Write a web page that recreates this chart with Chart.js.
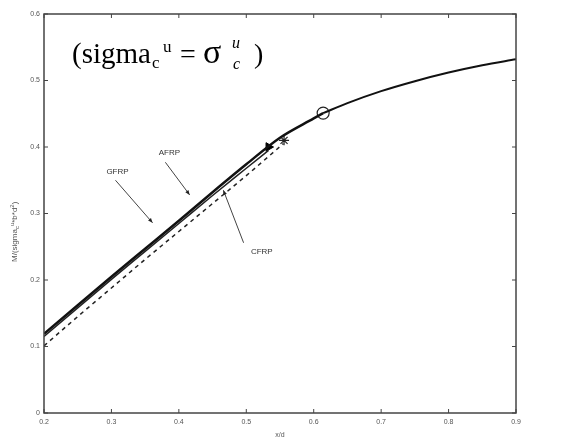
<!DOCTYPE html>
<html><head><meta charset="utf-8">
<script src="https://cdn.jsdelivr.net/npm/chart.js@4.4.0/dist/chart.umd.min.js"></script>
<style>html,body{margin:0;padding:0;background:#fff}#w{width:561px;height:441px}</style>
</head><body><div id="w"><canvas id="c" width="561" height="441"></canvas></div>
<script>
// ---- data ----
const xTicks = [0.2,0.3,0.4,0.5,0.6,0.7,0.8,0.9];
const yTicks = [0,0.1,0.2,0.3,0.4,0.5,0.6];
const gfrpX = [0.2,0.25,0.3,0.35,0.4,0.45,0.5,0.55,0.6,0.614];
const gfrpY = [0.119,0.162,0.205,0.247,0.289,0.332,0.374,0.414,0.443,0.451];
const afrpX = [0.2,0.25,0.3,0.35,0.4,0.45,0.5,0.533];
const afrpY = [0.115,0.158,0.201,0.243,0.285,0.327,0.368,0.395];
const cfrpX = [0.2,0.25,0.3,0.35,0.4,0.45,0.5,0.555];
const cfrpY = [0.101,0.145,0.188,0.231,0.273,0.315,0.357,0.405];
const commonX = [0.614,0.65,0.7,0.75,0.8,0.85,0.9];
const commonY = [0.451,0.466,0.484,0.499,0.512,0.523,0.532];
const gfrpEnd = [0.614,0.451];
const afrpEnd = [0.533,0.400];
const cfrpEnd = [0.556,0.410];
const labels = ["GFRP","AFRP","CFRP"];
const labelPos = [[0.309,0.362],[0.386,0.391],[0.523,0.242]];
const arrowFrom = [[0.306,0.350],[0.380,0.377],[0.496,0.256]];
const arrowTo = [[0.361,0.286],[0.416,0.328],[0.466,0.335]];

const pts = (xs,ys)=>xs.map((x,i)=>({x:x,y:ys[i]}));

function drawRich(ctx, parts, x, y){
  for(const p of parts){
    ctx.font = p.f;
    ctx.fillText(p.t, x, y + (p.dy||0));
    x += ctx.measureText(p.t).width + (p.dx||0);
  }
}

const deco = {
  id:'deco',
  afterDraw(ch){
    const ctx = ch.ctx, a = ch.chartArea, xs = ch.scales.x, ys = ch.scales.y;
    ctx.save();
    ctx.strokeStyle = '#444'; ctx.lineWidth = 1.5;
    ctx.strokeRect(a.left, a.top, a.right-a.left, a.bottom-a.top);
    ctx.lineWidth = 1;
    for(const t of xTicks){
      const px = xs.getPixelForValue(t);
      ctx.beginPath(); ctx.moveTo(px,a.bottom); ctx.lineTo(px,a.bottom-4);
      ctx.moveTo(px,a.top); ctx.lineTo(px,a.top+4); ctx.stroke();
    }
    for(const t of yTicks){
      const py = ys.getPixelForValue(t);
      ctx.beginPath(); ctx.moveTo(a.left,py); ctx.lineTo(a.left+4,py);
      ctx.moveTo(a.right,py); ctx.lineTo(a.right-4,py); ctx.stroke();
    }
    // annotation labels and arrows
    ctx.fillStyle = '#333'; ctx.strokeStyle = '#444'; ctx.lineWidth = 1;
    ctx.font = '8px "Liberation Sans"'; ctx.textAlign='center'; ctx.textBaseline='middle';
    labels.forEach((l,i)=>{
      ctx.fillText(l, xs.getPixelForValue(labelPos[i][0]), ys.getPixelForValue(labelPos[i][1]));
      const x1=xs.getPixelForValue(arrowFrom[i][0]), y1=ys.getPixelForValue(arrowFrom[i][1]);
      const x2=xs.getPixelForValue(arrowTo[i][0]), y2=ys.getPixelForValue(arrowTo[i][1]);
      ctx.beginPath(); ctx.moveTo(x1,y1); ctx.lineTo(x2,y2); ctx.stroke();
      const ang=Math.atan2(y2-y1,x2-x1), h=5;
      ctx.beginPath(); ctx.moveTo(x2,y2);
      ctx.lineTo(x2-h*Math.cos(ang-0.4), y2-h*Math.sin(ang-0.4));
      ctx.lineTo(x2-h*Math.cos(ang+0.4), y2-h*Math.sin(ang+0.4));
      ctx.closePath(); ctx.fillStyle='#222'; ctx.fill(); ctx.fillStyle='#333';
    });
    // axis titles
    ctx.textAlign='left'; ctx.textBaseline='alphabetic'; ctx.fillStyle='#555';
    ctx.font='7px "Liberation Sans"';
    const xt='x/d'; ctx.fillText(xt, (a.left+a.right)/2 - ctx.measureText(xt).width/2, 437);
    ctx.save(); ctx.translate(17, 262); ctx.rotate(-Math.PI/2);
    drawRich(ctx,[{t:'M/(sigma',f:'8px "Liberation Sans"'},{t:'c',f:'6px "Liberation Sans"',dy:2},
      {t:'u',f:'6px "Liberation Sans"',dy:-3},{t:'*b*d',f:'8px "Liberation Sans"'},
      {t:'2',f:'6px "Liberation Sans"',dy:-3},{t:')',f:'8px "Liberation Sans"'}],0,0);
    ctx.restore();
    // big formula
    ctx.fillStyle='#000';
    const S='"Liberation Serif"';
    ctx.font='29px '+S; ctx.fillText('(sigma',72,63);
    ctx.font='17px '+S; ctx.fillText('c',152,68); ctx.fillText('u',163,52);
    ctx.font='28px '+S; ctx.fillText('=',180,63);
    ctx.font='34px '+S; ctx.fillText('σ',203,63);
    ctx.font='italic 16px '+S; ctx.fillText('u',232,48);
    ctx.fillText('c',233,69);
    ctx.font='28px '+S; ctx.fillText(')',254,63);
    ctx.restore();
  }
};

new Chart(document.getElementById('c'),{
  type:'scatter',
  data:{datasets:[
    {label:'common',data:pts(commonX,commonY),showLine:true,borderColor:'#111',borderWidth:2,pointRadius:0},
    {label:'GFRP',data:pts(gfrpX,gfrpY),showLine:true,borderColor:'#111',borderWidth:2.5,pointRadius:0},
    {label:'AFRP',data:pts(afrpX,afrpY),showLine:true,borderColor:'#222',borderWidth:1.5,pointRadius:0},
    {label:'CFRP',data:pts(cfrpX,cfrpY),showLine:true,borderColor:'#222',borderWidth:1.5,borderDash:[4,4],pointRadius:0},
    {label:'gEnd',data:[{x:gfrpEnd[0],y:gfrpEnd[1]}],pointStyle:'circle',pointRadius:6,borderColor:'#222',borderWidth:1.2,backgroundColor:'rgba(0,0,0,0)'},
    {label:'aEnd',data:[{x:afrpEnd[0],y:afrpEnd[1]}],pointStyle:'triangle',pointRadius:5,rotation:90,borderColor:'#000',backgroundColor:'#000'},
    {label:'cEnd',data:[{x:cfrpEnd[0],y:cfrpEnd[1]}],pointStyle:'star',pointRadius:5,borderColor:'#222',borderWidth:1.2}
  ]},
  options:{
    responsive:false,animation:false,
    layout:{padding:{top:14,right:45,left:0,bottom:0}},
    plugins:{legend:{display:false},tooltip:{enabled:false}},
    elements:{line:{tension:0.4,cubicInterpolationMode:'monotone'}},
    scales:{
      x:{type:'linear',min:0.2,max:0.9,
        afterBuildTicks(s){s.ticks=xTicks.map(v=>({value:v}));},
        afterFit(s){s.height=28;},
        grid:{display:false,drawTicks:false},border:{display:false},
        ticks:{padding:5,color:'#555',font:{size:7,family:'Liberation Sans'},maxRotation:0,autoSkip:false,callback:v=>String(v)}},
      y:{type:'linear',min:0,max:0.6,
        afterBuildTicks(s){s.ticks=yTicks.map(v=>({value:v}));},
        afterFit(s){s.width=44;},
        grid:{display:false,drawTicks:false},border:{display:false},
        ticks:{padding:4,color:'#555',font:{size:7,family:'Liberation Sans'},autoSkip:false,callback:v=>String(v)}}
    }
  },
  plugins:[deco]
});
</script></body></html>
